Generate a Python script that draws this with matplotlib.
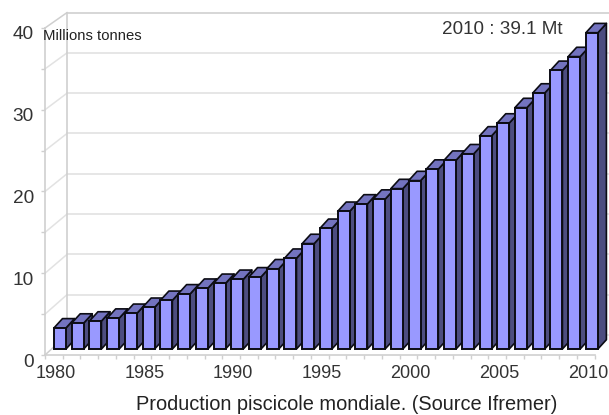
import matplotlib
matplotlib.use("Agg")
import matplotlib.pyplot as plt
from matplotlib.transforms import ScaledTranslation

plt.rcParams['font.family'] = ['Liberation Sans', 'DejaVu Sans']

years = list(range(1980, 2011))
production = [2.58, 3.17, 3.42, 3.77, 4.36, 5.10, 5.95, 6.74, 7.43, 8.03, 8.52,
              8.82, 9.81, 11.1, 12.9, 14.76, 16.84, 17.74, 18.33, 19.62, 20.6,
              22.0, 23.09, 23.88, 26.06, 27.64, 29.53, 31.31, 34.08, 35.77, 38.69]
y_label_ticks = [0, 10, 20, 30, 40]
y_grid_ticks = [0, 5, 10, 15, 20, 25, 30, 35, 40]
x_label_ticks = [1980, 1985, 1990, 1995, 2000, 2005, 2010]
unit_label = "Millions tonnes"
note = "2010 : 39.1 Mt"
caption = "Production piscicole mondiale. (Source Ifremer)"

WALL = '#cfcfcf'
GRID = '#e2e2e2'
FRONT = '#9999ff'
SIDE = '#4d4d80'
TOP = '#7373bf'
EDGE = '#0c0c14'
TEXT = '#333333'

PX_X = 17.73   # pixels per year
PX_Y = 8.175   # pixels per unit

fig = plt.figure(figsize=(6.09, 4.15), dpi=100)
ax = fig.add_axes([45 / 609, 60 / 415, 31 * PX_X / 609, 327 / 415])
ax.set_xlim(1979.5, 2010.5)
ax.set_ylim(0, 40)
ax.patch.set_alpha(0)
for s in ('top', 'right'):
    ax.spines[s].set_visible(False)
for s in ('left', 'bottom'):
    ax.spines[s].set_color(WALL)
    ax.spines[s].set_linewidth(1.2)

# depth of the back wall
wall_dx = 22 / PX_X
wall_dy = 20 / PX_Y
wall_scale = 8.06 / PX_Y
x0, x1 = ax.get_xlim()


def wall_y(v):
    return wall_dy + v * wall_scale


for v in y_grid_ticks:
    by = wall_y(v)
    ax.plot([x0, x0 + wall_dx], [v, by], color=GRID if v not in (0, 40) else WALL,
            lw=1.1, clip_on=False, zorder=1)
    ax.plot([x0 + wall_dx, x1 + wall_dx], [by, by], color=GRID if v != 40 else WALL,
            lw=1.2, clip_on=False, zorder=1)
ax.plot([x0 + wall_dx] * 2, [wall_y(0), wall_y(40)], color=WALL, lw=1.2,
        clip_on=False, zorder=1)

# bars
bar_dx = 6 / PX_X
bar_dy = 6 / PX_Y
bar_w = 12 / PX_X
depth_x = 8.5 / PX_X
depth_y = 9.3 / PX_Y
for i, (yr, val) in enumerate(zip(years, production)):
    z = 3 + i * 0.01
    xl = yr - 0.5 + (54 - 45) / PX_X
    xr = xl + bar_w
    y0 = bar_dy
    y1 = bar_dy + val
    ax.fill([xr, xr + depth_x, xr + depth_x, xr],
            [y0, y0 + depth_y, y1 + depth_y, y1],
            facecolor=SIDE, edgecolor=EDGE, lw=1.2, joinstyle='round',
            clip_on=False, zorder=z)
    ax.fill([xl, xr, xr + depth_x, xl + depth_x],
            [y1, y1, y1 + depth_y, y1 + depth_y],
            facecolor=TOP, edgecolor=EDGE, lw=1.2, joinstyle='round',
            clip_on=False, zorder=z)
    ax.bar(xl, val, width=bar_w, bottom=y0, align='edge', facecolor=FRONT,
           edgecolor=EDGE, lw=1.4, clip_on=False, zorder=z + 0.001)

# ticks
ax.set_yticks(y_label_ticks)
ax.set_yticks(y_grid_ticks, minor=True)
ax.tick_params(axis='y', which='both', length=3, width=1, color=WALL, pad=5,
               labelsize=13.7, labelcolor=TEXT)
ax.set_xticks(x_label_ticks)
ax.set_xticklabels([str(y) for y in x_label_ticks])
ax.set_xticks([x0 + i for i in range(32)], minor=True)
ax.tick_params(axis='x', which='major', length=0, pad=7, labelsize=13, labelcolor=TEXT)
ax.tick_params(axis='x', which='minor', length=3, width=1, color=WALL)

off_y = ScaledTranslation(0, -5 / 100, fig.dpi_scale_trans)
for t in ax.get_yticklabels():
    t.set_transform(t.get_transform() + off_y)
off_x = ScaledTranslation(2 / 100, 0, fig.dpi_scale_trans)
for t in ax.get_xticklabels():
    t.set_transform(t.get_transform() + off_x)

fig.text(43 / 609, 1 - 36 / 415, unit_label, fontsize=10.7, color='#222222',
         ha='left', va='center', zorder=20)
fig.text(442 / 609, 1 - 30 / 415, note, fontsize=13.6, color=TEXT,
         ha='left', va='center')
fig.text(346.5 / 609, 1 - 404 / 415, caption, fontsize=14.4, color='#222222',
         ha='center', va='center')

fig.savefig('out.png', dpi=100)
